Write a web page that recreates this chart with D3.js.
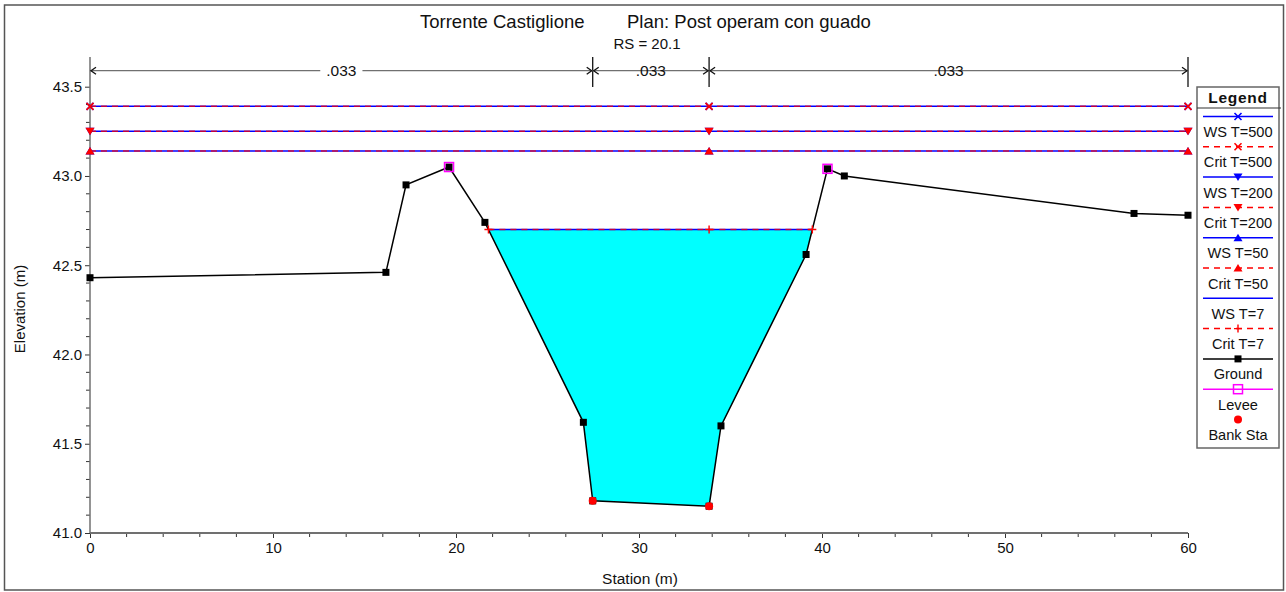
<!DOCTYPE html>
<html>
<head>
<meta charset="utf-8">
<script src="https://cdn.jsdelivr.net/npm/d3@7"></script>
<style>
  html, body { margin: 0; padding: 0; background: #fff; }
  svg { display: block; font-family: "Liberation Sans", Arial, sans-serif; }
</style>
</head>
<body>
<svg id="chart" width="1286" height="592"></svg>
<script>
// ---------- data ----------
const stations   = [0, 16.17, 17.27, 19.62, 21.58, 26.96, 27.47, 33.83, 34.48, 39.13, 40.30, 41.22, 57.05, 60];
const elevations = [42.43, 42.46, 42.95, 43.05, 42.74, 41.62, 41.18, 41.15, 41.60, 42.56, 43.04, 43.00, 42.79, 42.78];
const leveeStations = [19.62, 40.30];
const leveeElevs    = [43.05, 43.04];
const bankStations  = [27.47, 33.83];
const bankElevs     = [41.18, 41.15];
const profiles   = ["T=500", "T=200", "T=50", "T=7"];
const wsElev     = [43.39, 43.25, 43.14, 42.70];
const critElev   = [43.39, 43.25, 43.14, 42.70];
const profileMarkers = ["x", "down", "up", "none"];
const critMarkers    = ["x", "down", "up", "plus"];
const nLabels    = [".033", ".033", ".033"];
const nBounds    = [0, 27.47, 33.83, 60];
const xMajorTicks = [0, 10, 20, 30, 40, 50, 60];
const yMajorTicks = [41.0, 41.5, 42.0, 42.5, 43.0, 43.5];
const titleLeft  = "Torrente Castiglione";
const titleRight = "Plan: Post operam con guado";
const subTitle   = "RS = 20.1";
const xLabel = "Station (m)";
const yLabel = "Elevation (m)";

// ---------- setup ----------
const svg = d3.select("#chart");
const x = d3.scaleLinear().domain([0, 60]).range([90, 1188]);
const y = d3.scaleLinear().domain([41, 43.5]).range([533, 86.7]);
const yTop = 57;
const BLUE = "#0000ff", RED = "#ff0000", AXIS = "#707070";

// outer frame
svg.append("rect").attr("x", 4.5).attr("y", 5).attr("width", 1279).attr("height", 585)
  .attr("fill", "none").attr("stroke", "#555").attr("stroke-width", 1.5);

// titles
svg.append("text").attr("x", 420).attr("y", 28).attr("font-size", 18.5).attr("fill", "#111").text(titleLeft);
svg.append("text").attr("x", 627).attr("y", 28).attr("font-size", 18.5).attr("fill", "#111").text(titleRight);
svg.append("text").attr("x", 647).attr("y", 49).attr("font-size", 15).attr("text-anchor", "middle").attr("fill", "#111").text(subTitle);

// ---------- axes ----------
const xMinor = d3.range(0, 61, 2).filter(v => !xMajorTicks.includes(v));
const yMinor = d3.range(41.1, 43.45, 0.1).map(v => Math.round(v * 10) / 10).filter(v => !yMajorTicks.some(m => Math.abs(m - v) < 1e-6));

const xAxisG = svg.append("g").attr("transform", `translate(0,${y(41)})`);
xAxisG.call(d3.axisBottom(x).tickValues(xMajorTicks).tickFormat(d3.format("d")).tickSize(5).tickPadding(4));
xAxisG.append("g").selectAll("line").data(xMinor).join("line")
  .attr("x1", d => x(d)).attr("x2", d => x(d)).attr("y1", 0).attr("y2", 4).attr("stroke", "#333");

const yAxisG = svg.append("g").attr("transform", `translate(${x(0)},0)`);
yAxisG.call(d3.axisLeft(y).tickValues(yMajorTicks).tickFormat(d3.format(".1f")).tickSize(5).tickPadding(3));
yAxisG.append("g").selectAll("line").data(yMinor).join("line")
  .attr("y1", d => y(d)).attr("y2", d => y(d)).attr("x1", 0).attr("x2", -4).attr("stroke", "#333");

[xAxisG, yAxisG].forEach(g => {
  g.select(".domain").remove();
  g.selectAll(".tick line").attr("stroke", "#333");
  g.selectAll(".tick text").attr("font-size", 15).attr("fill", "#111").attr("font-family", "Liberation Sans, Arial, sans-serif");
});
// axis lines
svg.append("line").attr("x1", x(0)).attr("x2", x(0)).attr("y1", yTop).attr("y2", y(41))
  .attr("stroke", AXIS).attr("stroke-width", 1.5);
svg.append("line").attr("x1", x(0)).attr("x2", x(60)).attr("y1", y(41)).attr("y2", y(41))
  .attr("stroke", AXIS).attr("stroke-width", 2);

svg.append("text").attr("x", 640).attr("y", 584).attr("text-anchor", "middle")
  .attr("font-size", 15.5).attr("fill", "#111").text(xLabel);
svg.append("text").attr("transform", `translate(25,${309}) rotate(-90)`).attr("text-anchor", "middle")
  .attr("font-size", 15).attr("fill", "#111").text(yLabel);

// ---------- n-value dimension lines ----------
const dimY = 70.7;
const dimG = svg.append("g");
nBounds.forEach((b, i) => {
  if (i > 0) {
    dimG.append("line").attr("x1", x(b)).attr("x2", x(b)).attr("y1", yTop).attr("y2", 87)
      .attr("stroke", "#111").attr("stroke-width", 1.3);
  }
});
nLabels.forEach((lab, i) => {
  const x0 = x(nBounds[i]), x1 = x(nBounds[i + 1]);
  dimG.append("line").attr("x1", x0).attr("x2", x1).attr("y1", dimY).attr("y2", dimY)
    .attr("stroke", AXIS).attr("stroke-width", 1.3);
  dimG.append("path").attr("d", `M${x0 + 6},${dimY - 3.5} L${x0 + 1},${dimY} L${x0 + 6},${dimY + 3.5}`)
    .attr("fill", "none").attr("stroke", "#111").attr("stroke-width", 1.3);
  dimG.append("path").attr("d", `M${x1 - 6},${dimY - 3.5} L${x1 - 1},${dimY} L${x1 - 6},${dimY + 3.5}`)
    .attr("fill", "none").attr("stroke", "#111").attr("stroke-width", 1.3);
  const cx = (x0 + x1) / 2;
  const t = dimG.append("text").attr("x", cx).attr("y", dimY + 5.5).attr("text-anchor", "middle")
    .attr("font-size", 15.5).attr("fill", "#111").text(lab);
  const bb = t.node().getBBox();
  dimG.insert("rect", "text").attr("x", bb.x - 6).attr("y", dimY - 2).attr("width", bb.width + 12).attr("height", 4).attr("fill", "#fff");
});
dimG.selectAll("text").raise();

// ---------- water extents ----------
const ground = stations.map((s, i) => ({ s, e: elevations[i] }));
function interpX(a, b, level) {
  const t = (a.e - level) / (a.e - b.e);
  return a.s + t * (b.s - a.s);
}
function wetExtent(level) {
  let li = ground.findIndex(p => p.s >= bankStations[0]);
  let ri = ground.findIndex(p => p.s >= bankStations[1]);
  let left = ground[0].s, right = ground[ground.length - 1].s;
  let leftIdx = 0, rightIdx = ground.length - 1;
  for (let i = li; i > 0; i--) {
    if (ground[i - 1].e > level) { left = interpX(ground[i - 1], ground[i], level); leftIdx = i; break; }
  }
  for (let i = ri; i < ground.length - 1; i++) {
    if (ground[i + 1].e > level) { right = interpX(ground[i + 1], ground[i], level); rightIdx = i; break; }
  }
  return { left, right, leftIdx, rightIdx };
}

const low = wsElev.length - 1;
const ext = wetExtent(wsElev[low]);
const poly = [[ext.left, wsElev[low]]];
for (let i = ext.leftIdx; i <= ext.rightIdx; i++) poly.push([ground[i].s, ground[i].e]);
poly.push([ext.right, wsElev[low]]);
svg.append("path").attr("d", d3.line().x(d => x(d[0])).y(d => y(d[1]))(poly) + "Z")
  .attr("fill", "#00ffff").attr("stroke", "none");

svg.append("path").datum(ground).attr("d", d3.line().x(d => x(d.s)).y(d => y(d.e)))
  .attr("fill", "none").attr("stroke", "#000").attr("stroke-width", 1.5);

// ---------- markers ----------
function marker(g, type, cx, cy, color) {
  if (type === "x") {
    g.append("path").attr("d", `M${cx - 3.5},${cy - 3.5}L${cx + 3.5},${cy + 3.5}M${cx - 3.5},${cy + 3.5}L${cx + 3.5},${cy - 3.5}`)
      .attr("stroke", color).attr("stroke-width", 1.6).attr("fill", "none");
  } else if (type === "plus") {
    g.append("path").attr("d", `M${cx - 4},${cy}L${cx + 4},${cy}M${cx},${cy - 4}L${cx},${cy + 4}`)
      .attr("stroke", color).attr("stroke-width", 1.4).attr("fill", "none");
  } else if (type === "down") {
    g.append("path").attr("d", `M${cx - 4.5},${cy - 3.5}L${cx + 4.5},${cy - 3.5}L${cx},${cy + 4}Z`).attr("fill", color);
  } else if (type === "up") {
    g.append("path").attr("d", `M${cx - 4.5},${cy + 3.5}L${cx + 4.5},${cy + 3.5}L${cx},${cy - 4}Z`).attr("fill", color);
  } else if (type === "square") {
    g.append("rect").attr("x", cx - 3.5).attr("y", cy - 3.5).attr("width", 7).attr("height", 7).attr("fill", color);
  } else if (type === "osquare") {
    g.append("rect").attr("x", cx - 4.5).attr("y", cy - 4.5).attr("width", 9).attr("height", 9)
      .attr("fill", "none").attr("stroke", color).attr("stroke-width", 1.5);
  } else if (type === "circle") {
    g.append("circle").attr("cx", cx).attr("cy", cy).attr("r", 4).attr("fill", color);
  }
}

const mg = svg.append("g");
ground.forEach(p => marker(mg, "square", x(p.s), y(p.e), "#000"));
leveeStations.forEach((s, i) => marker(mg, "osquare", x(s), y(leveeElevs[i]), "#ff00ff"));
bankStations.forEach((s, i) => marker(mg, "circle", x(s), y(bankElevs[i]), RED));

// ---------- water surfaces ----------
const wg = svg.append("g");
profiles.forEach((p, i) => {
  const e = wetExtent(wsElev[i]);
  const ec = wetExtent(critElev[i]);
  wg.append("line").attr("x1", x(e.left)).attr("x2", x(e.right)).attr("y1", y(wsElev[i])).attr("y2", y(wsElev[i]))
    .attr("stroke", BLUE).attr("stroke-width", 1.5);
  wg.append("line").attr("x1", x(ec.left)).attr("x2", x(ec.right)).attr("y1", y(critElev[i])).attr("y2", y(critElev[i]))
    .attr("stroke", RED).attr("stroke-width", 1.5).attr("stroke-dasharray", "6,5").attr("stroke-opacity", 0.75);
  [e.left, bankStations[1], e.right].forEach(s => {
    if (profileMarkers[i] !== "none") marker(wg, profileMarkers[i], x(s), y(wsElev[i]), BLUE);
  });
  [ec.left, bankStations[1], ec.right].forEach(s => marker(wg, critMarkers[i], x(s), y(critElev[i]), RED));
});

// ---------- legend ----------
const L = { x: 1197, y: 87, w: 82, h: 361 };
const lg = svg.append("g");
lg.append("rect").attr("x", L.x).attr("y", L.y).attr("width", L.w).attr("height", L.h)
  .attr("fill", "#fff").attr("stroke", "#666").attr("stroke-width", 1.5);
lg.append("text").attr("x", L.x + L.w / 2).attr("y", 102.5).attr("text-anchor", "middle")
  .attr("font-size", 15.5).attr("font-weight", "bold").attr("letter-spacing", 0.7).attr("fill", "#111").text("Legend");
lg.append("line").attr("x1", L.x).attr("x2", 1281).attr("y1", 108).attr("y2", 108).attr("stroke", "#333").attr("stroke-width", 1.2);

const legendItems = [];
profiles.forEach((p, i) => {
  legendItems.push({ label: "WS " + p, color: BLUE, dash: null, mk: profileMarkers[i], mc: BLUE });
  legendItems.push({ label: "Crit " + p, color: RED, dash: "6,5", mk: critMarkers[i], mc: RED });
});
legendItems.push({ label: "Ground", color: "#000", dash: null, mk: "square", mc: "#000" });
legendItems.push({ label: "Levee", color: "#ff00ff", dash: null, mk: "osquare", mc: "#ff00ff" });
legendItems.push({ label: "Bank Sta", color: null, dash: null, mk: "circle", mc: RED });

legendItems.forEach((it, i) => {
  const ly = 116.5 + i * 30.3;
  const cx = L.x + L.w / 2;
  if (it.color) {
    lg.append("line").attr("x1", L.x + 6).attr("x2", L.x + L.w - 6).attr("y1", ly).attr("y2", ly)
      .attr("stroke", it.color).attr("stroke-width", 1.5).attr("stroke-dasharray", it.dash);
  }
  if (it.mk !== "none") marker(lg, it.mk, cx, ly, it.mc);
  lg.append("text").attr("x", cx).attr("y", ly + 20.5).attr("text-anchor", "middle")
    .attr("font-size", 14.6).attr("fill", "#111").text(it.label);
});
</script>
</body>
</html>
